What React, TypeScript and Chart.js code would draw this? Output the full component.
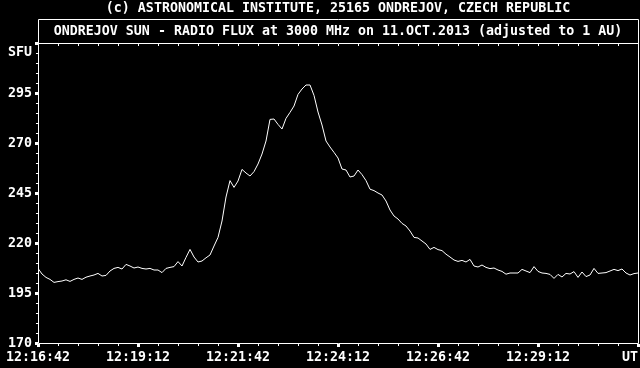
import React, { useEffect, useRef } from 'react';
import { Chart, registerables } from 'chart.js';

Chart.register(...registerables);

// ---- data ----
const TITLE_TOP = '(c) ASTRONOMICAL INSTITUTE, 25165 ONDREJOV, CZECH REPUBLIC';
const TITLE_MAIN = 'ONDREJOV SUN - RADIO FLUX at 3000 MHz on 11.OCT.2013 (adjusted to 1 AU)';
const Y_UNIT = 'SFU';

// seconds between samples, starting at 12:16:42 UT
const SAMPLE_STEP_S = 6;
const FLUX_SFU = [
  207.3, 204.5, 202.8, 201.8, 200.3, 200.7, 201.0, 201.6, 200.8, 201.8,
  202.5, 201.8, 202.9, 203.5, 204.0, 204.8, 203.5, 203.8, 206.0, 207.3,
  207.8, 207.0, 209.3, 208.5, 207.5, 208.0, 207.3, 207.0, 207.3, 206.5,
  206.5, 205.2, 207.3, 207.8, 208.2, 210.7, 208.5, 212.8, 216.8, 213.0,
  210.5, 211.0, 212.6, 214.0, 218.5, 222.8, 231.0, 243.0, 251.2, 247.8,
  251.0, 256.8, 255.0, 253.5, 255.7, 259.5, 264.5, 271.0, 281.8, 282.0,
  279.3, 277.0, 282.3, 285.3, 288.5, 294.3, 297.0, 299.0, 299.0, 293.8,
  285.5, 279.0, 271.0, 268.0, 265.3, 262.5, 257.0, 256.5, 253.0, 253.5,
  256.5, 254.2, 251.2, 246.9, 246.2, 245.0, 244.0, 241.0, 236.5, 233.5,
  232.0, 229.8, 228.5, 226.0, 222.8, 222.5, 221.0, 219.5, 216.8, 217.8,
  216.7, 216.2, 214.4, 213.0, 211.5, 210.8, 211.3, 210.5, 211.8, 208.5,
  208.0, 209.0, 207.8, 207.2, 207.5, 206.5, 205.8, 204.4, 205.0, 205.0,
  205.0, 206.8, 206.0, 205.2, 208.2, 205.8, 205.0, 204.8, 204.3, 202.3,
  204.3, 203.0, 204.8, 204.5, 205.7, 202.8, 205.5, 203.2, 204.0, 207.3,
  204.8, 205.0, 205.2, 206.0, 206.8, 206.2, 207.0, 205.0, 204.0, 204.7,
  205.0,
];

const X_TICK_LABELS = ['12:16:42', '12:19:12', '12:21:42', '12:24:12', '12:26:42', '12:29:12', 'UT'];
const X_MAX_S = 900;
const X_MAJOR_S = 150;
const X_MINOR_S = 30;

const Y_MIN = 170;
const Y_MAX = 320;
const Y_TICK_LABELS = ['170', '195', '220', '245', '270', '295'];
const Y_MAJOR = 25;
const Y_MINOR = 5;

const FONT = "bold 13.3px 'DejaVu Sans Mono', 'Liberation Mono', monospace";

const framePlugin = {
  id: 'ondrejovFrame',
  beforeDraw(chart: any) {
    const ctx = chart.ctx;
    ctx.save();
    ctx.fillStyle = '#000';
    ctx.fillRect(0, 0, chart.width, chart.height);
    ctx.restore();
  },
  afterDraw(chart: any) {
    const { ctx, chartArea: a } = chart;
    const xs = chart.scales.x;
    const ys = chart.scales.y;
    const L = Math.round(a.left);
    const R = Math.round(a.right);
    const T = Math.round(a.top);
    const B = Math.round(a.bottom);
    const boxTop = 19;
    ctx.save();
    ctx.strokeStyle = '#fff';
    ctx.fillStyle = '#fff';
    ctx.lineWidth = 1;

    // frame
    ctx.beginPath();
    ctx.moveTo(L + 0.5, boxTop + 0.5);
    ctx.lineTo(R + 0.5, boxTop + 0.5);
    ctx.lineTo(R + 0.5, B + 0.5);
    ctx.lineTo(L + 0.5, B + 0.5);
    ctx.closePath();
    ctx.moveTo(L, T + 0.5);
    ctx.lineTo(R + 1, T + 0.5);
    ctx.stroke();

    // y ticks
    for (let v = Y_MIN; v <= Y_MAX; v += Y_MINOR) {
      const py = Math.round(ys.getPixelForValue(v));
      if ((v - Y_MIN) % Y_MAJOR === 0) {
        ctx.fillRect(L - 3, py - 1, 3, 3);
      } else {
        ctx.fillRect(L - 2, py, 2, 1);
      }
    }
    // x ticks
    for (let s = 0; s <= X_MAX_S; s += X_MINOR_S) {
      const px = Math.round(xs.getPixelForValue(s));
      if (s % X_MAJOR_S === 0) {
        ctx.fillRect(px - 1, B + 1, 3, 3);
      } else {
        ctx.fillRect(px, B + 1, 1, 2);
      }
      ctx.fillRect(px, T + 1, 1, 2);
    }

    ctx.font = FONT;
    ctx.textBaseline = 'middle';
    ctx.textAlign = 'center';
    const cx = (L + R) / 2;
    ctx.fillText(TITLE_TOP, cx, 9);
    ctx.fillText(TITLE_MAIN, cx, 32);

    // y labels
    ctx.textAlign = 'right';
    Y_TICK_LABELS.forEach((lab) => {
      const py = ys.getPixelForValue(Number(lab));
      ctx.fillText(lab, L - 6, py + 1);
    });
    ctx.fillText(Y_UNIT, L - 6, 53);

    // x labels
    X_TICK_LABELS.forEach((lab, i) => {
      const px = xs.getPixelForValue(i * X_MAJOR_S);
      if (i === X_TICK_LABELS.length - 1) {
        ctx.textAlign = 'right';
        ctx.fillText(lab, px, B + 15);
      } else {
        ctx.textAlign = 'center';
        ctx.fillText(lab, px, B + 15);
      }
    });
    ctx.restore();
  },
};

export default function App() {
  const ref = useRef<HTMLCanvasElement | null>(null);
  useEffect(() => {
    if (!ref.current) return;
    const chart = new Chart(ref.current, {
      type: 'line',
      data: {
        datasets: [
          {
            data: FLUX_SFU.map((v, i) => ({ x: i * SAMPLE_STEP_S, y: v })),
            borderColor: '#fff',
            borderWidth: 1,
            pointRadius: 0,
            tension: 0,
            fill: false,
          },
        ],
      },
      options: {
        animation: false,
        responsive: false,
        maintainAspectRatio: false,
        devicePixelRatio: 1,
        layout: { padding: { left: 38, right: 2, top: 43, bottom: 25 } },
        plugins: {
          legend: { display: false },
          tooltip: { enabled: false },
          title: { display: false },
        },
        scales: {
          x: { type: 'linear', min: 0, max: X_MAX_S, display: false },
          y: { type: 'linear', min: Y_MIN, max: Y_MAX, display: false },
        },
      },
      plugins: [framePlugin],
    } as any);
    return () => chart.destroy();
  }, []);
  return (
    <div style={{ position: 'fixed', left: 0, top: 0, width: 640, height: 368, background: '#000' }}>
      <canvas ref={ref} width={640} height={368} style={{ display: 'block', width: 640, height: 368 }} />
    </div>
  );
}
